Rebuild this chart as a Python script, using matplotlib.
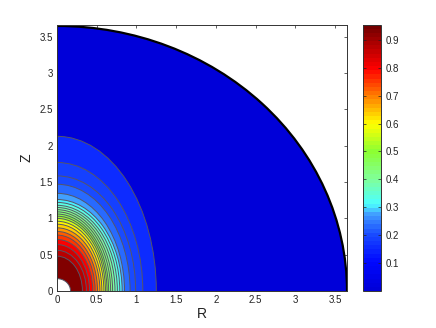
import matplotlib
matplotlib.use("Agg")
import matplotlib.pyplot as plt
from matplotlib.patches import Ellipse
from matplotlib.colors import LinearSegmentedColormap, Normalize
from matplotlib.colorbar import ColorbarBase

# contour levels, with where each one crosses the R and Z axes
levels = [0.00, 0.15, 0.18, 0.20, 0.23, 0.27, 0.31, 0.33, 0.36, 0.39, 0.42, 0.44,
          0.48, 0.52, 0.56, 0.60, 0.64, 0.68, 0.72, 0.76, 0.80, 0.84, 0.88, 0.94, 0.96]
r_cross = [3.65, 1.25, 1.08, 0.99, 0.92, 0.85, 0.82, 0.79, 0.76, 0.73, 0.70, 0.675,
           0.65, 0.63, 0.61, 0.59, 0.565, 0.54, 0.51, 0.48, 0.45, 0.41, 0.37, 0.32, 0.17]
z_cross = [3.65, 2.13, 1.77, 1.585, 1.47, 1.345, 1.26, 1.22, 1.18, 1.15, 1.12, 1.09,
           1.06, 1.03, 1.00, 0.96, 0.92, 0.87, 0.82, 0.77, 0.71, 0.64, 0.56, 0.48, 0.17]

ticks = [0, 0.5, 1, 1.5, 2, 2.5, 3, 3.5]
tick_labels = ['0', '0.5', '1', '1.5', '2', '2.5', '3', '3.5']
cbar_ticks = [0.1, 0.2, 0.3, 0.4, 0.5, 0.6, 0.7, 0.8, 0.9]
cbar_max = 0.955

plt.rcParams['font.family'] = ['Liberation Sans', 'DejaVu Sans']

# jet-like map, anchors taken from the colorbar
anchors = [(0.0, (0, 0, 0.85)), (0.1, (0, 0.03, 1)), (0.2, (0.1, 0.3, 1)),
           (0.27, (0.25, 0.6, 1)), (0.31, (0.3, 1, 1)), (0.4, (0.5, 1, 0.6)),
           (0.5, (0.55, 1, 0.2)), (0.6, (1, 1, 0)), (0.7, (1, 0.5, 0)),
           (0.8, (1, 0, 0)), (0.9, (0.65, 0, 0)), (cbar_max, (0.45, 0, 0))]
cmap = LinearSegmentedColormap.from_list(
    'jetish', [(v / cbar_max, c) for v, c in anchors], N=64)
norm = Normalize(0, cbar_max)

fig = plt.figure(figsize=(4.36, 3.28), dpi=100)
W, H = 436.0, 328.0
ax = fig.add_axes([57 / W, 1 - 291 / H, 290 / W, 266.5 / H])
cax = fig.add_axes([363 / W, 1 - 291 / H, 18 / W, 266.5 / H])

line_grey = '#555566'
for i, lev in enumerate(levels):
    # band takes the colour of its lower level, the hole in the middle is empty
    face = 'white' if i == len(levels) - 1 else cmap(norm(lev))
    # outermost contour is the thick black boundary
    edge = 'black' if i == 0 else line_grey
    lw = 1.6 if i == 0 else 0.7
    ax.add_patch(Ellipse((0, 0), 2 * r_cross[i], 2 * z_cross[i], facecolor=face,
                         edgecolor=edge, linewidth=lw, zorder=2 + i * 0.01))

ax.set_xlim(0, 3.65)
ax.set_ylim(0, 3.67)
ax.set_xticks(ticks)
ax.set_xticklabels(tick_labels)
ax.set_yticks(ticks)
ax.set_yticklabels(tick_labels)
ax.tick_params(direction='in', top=True, right=True, length=2.5, width=0.5,
               labelsize=7, pad=3, colors='#222222')
ax.set_xlabel('R', fontsize=10, labelpad=1, color='#222222')
ax.set_ylabel('Z', fontsize=10, labelpad=4, color='#222222')
for s in ax.spines.values():
    s.set_linewidth(0.7)
    s.set_color('#333333')
    s.set_zorder(5)

cb = ColorbarBase(cax, cmap=cmap, norm=norm, orientation='vertical', ticks=cbar_ticks)
cb.ax.set_yticklabels(['%.1f' % t for t in cbar_ticks])
cb.ax.tick_params(direction='in', left=True, right=True, length=2.5, width=0.5,
                  labelsize=7, pad=3, colors='#222222')
cb.outline.set_linewidth(0.7)
cb.outline.set_edgecolor('#333333')

fig.savefig('out.png', dpi=100)
